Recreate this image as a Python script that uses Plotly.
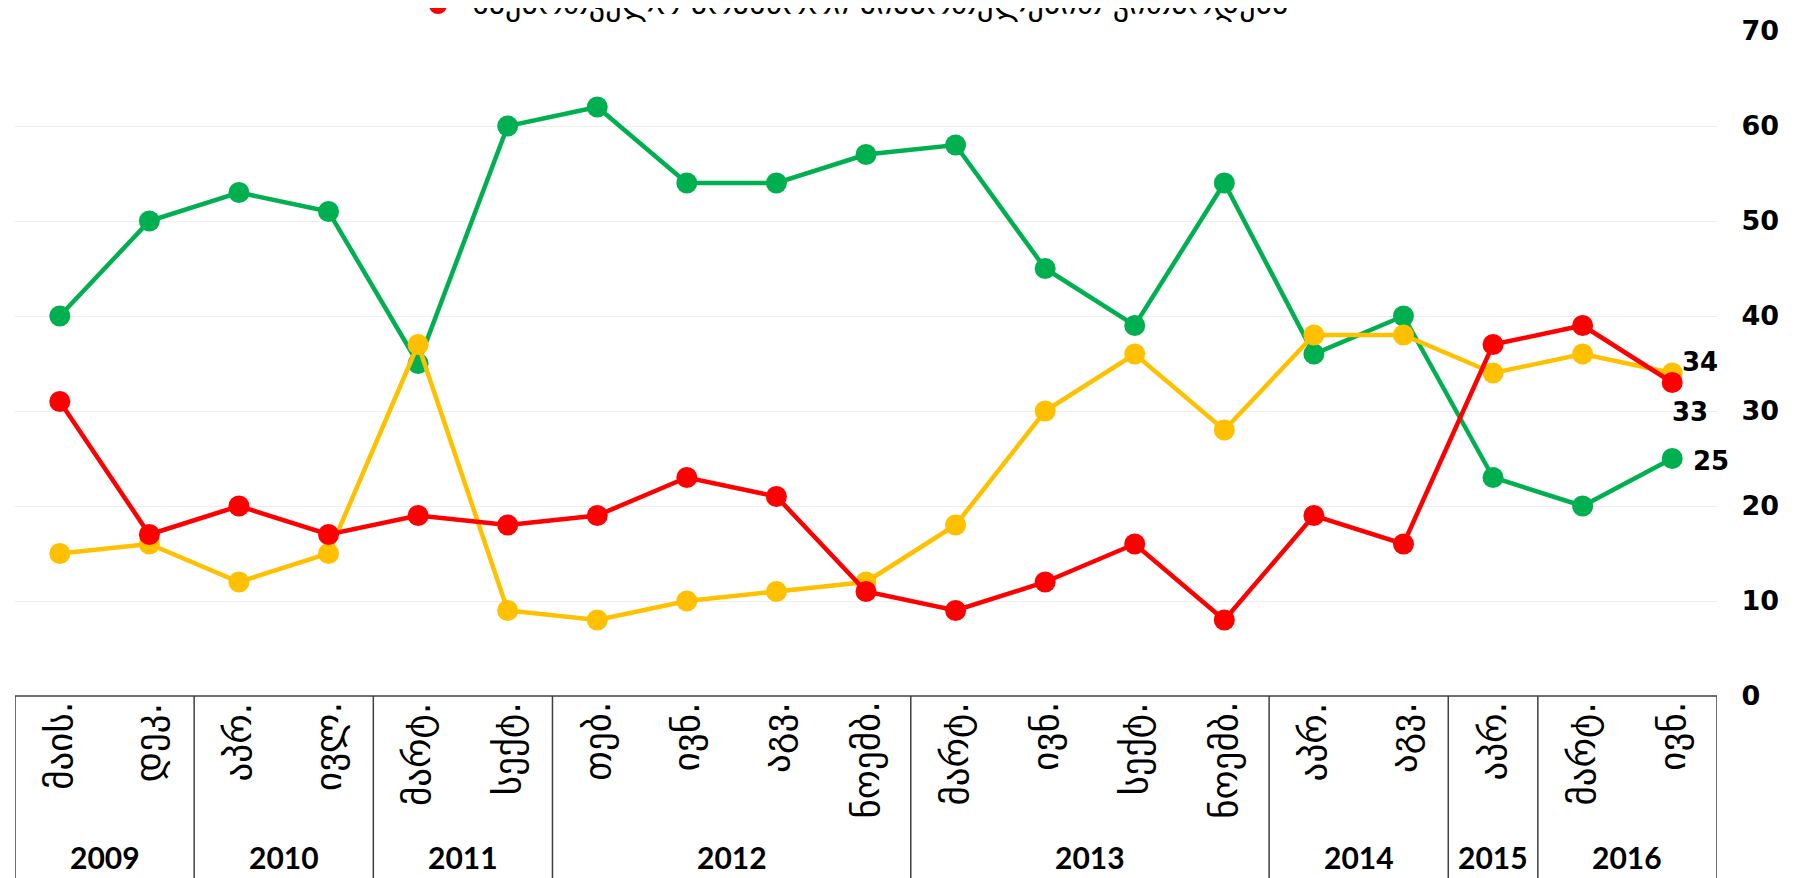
import plotly.graph_objects as go

months = ["მაის.", "დეკ.", "აპრ.", "ივლ.", "მარტ.", "სექტ.", "თებ.", "ივნ.", "აგვ.", "ნოემბ.",
          "მარტ.", "ივნ.", "სექტ.", "ნოემბ.", "აპრ.", "აგვ.", "აპრ.", "მარტ.", "ივნ."]
years = ["2009", "2010", "2011", "2012", "2013", "2014", "2015", "2016"]
year_counts = [2, 2, 2, 4, 4, 2, 1, 2]

green = [40, 50, 53, 51, 35, 60, 62, 54, 54, 57, 58, 45, 39, 54, 36, 40, 23, 20, 25]
yellow = [15, 16, 12, 15, 37, 9, 8, 10, 11, 12, 18, 30, 36, 28, 38, 38, 34, 36, 34]
red = [31, 17, 20, 17, 19, 18, 19, 23, 21, 11, 9, 12, 16, 8, 19, 16, 37, 39, 33]

legend_red = "საქართველო არასწორი მიმართულებით ვითარდება"

GREEN = "#00B050"
YELLOW = "#FFC000"
RED = "#FF0000"

W, H = 1796, 878
ML, MR, MT, MB = 7, 87, 21, 190
PH = H - MT - MB


def py(px):
    """pixel row -> paper y"""
    return (H - MB - px) / PH


x = list(range(len(months)))

fig = go.Figure()
for vals, col in [(green, GREEN), (yellow, YELLOW), (red, RED)]:
    fig.add_trace(go.Scatter(
        x=x, y=vals, mode="lines+markers",
        line=dict(color=col, width=4.5),
        marker=dict(color=col, size=21),
        showlegend=False, hoverinfo="skip",
    ))

annotations = []
shapes = []

# month labels (rotated)
for i, m in enumerate(months):
    annotations.append(dict(
        x=i, xref="x", y=py(692), yref="paper", text=m, showarrow=False,
        textangle=-90, yanchor="top", xanchor="center",
        font=dict(family="DejaVu Sans", size=37, color="#000000"),
    ))

# year labels and separators
line_col = "#3F3F3F"
start = 0
boundaries = [-0.5]
for yr, cnt in zip(years, year_counts):
    center = start + (cnt - 1) / 2
    annotations.append(dict(
        x=center, xref="x", y=py(849), yref="paper", text="<b>%s</b>" % yr,
        showarrow=False, xanchor="center", yanchor="middle",
        font=dict(family="Lato", size=30, color="#000000"),
    ))
    start += cnt
    boundaries.append(start - 0.5)

for b in boundaries:
    shapes.append(dict(type="line", xref="x", yref="paper", x0=b, x1=b,
                       y0=py(688), y1=py(890), line=dict(color=line_col, width=1.5)))
shapes.append(dict(type="line", xref="x", yref="paper", x0=-0.5, x1=len(months) - 0.5,
                   y0=py(688), y1=py(688), line=dict(color=line_col, width=1.5)))

# end-point data labels
lab_font = dict(family="DejaVu Sans", size=26, color="#000000")
last = len(months) - 1
for vals, xs, ys in [(yellow, 8, 11), (red, -2, -29), (green, 19, -2)]:
    annotations.append(dict(
        x=last, xref="x", y=vals[-1], yref="y", text="<b>%d</b>" % vals[-1],
        showarrow=False, xanchor="left", yanchor="middle", xshift=xs, yshift=ys,
        font=lab_font,
    ))

# partially visible legend entry at top (cut off by the page edge, as in the source)
shapes.append(dict(type="circle", xref="paper", yref="paper",
                   x0=(430 - 9 - ML) / (W - ML - MR), x1=(430 + 9 - ML) / (W - ML - MR),
                   y0=py(4), y1=py(-14), fillcolor=RED, line=dict(width=0)))
annotations.append(dict(
    x=(462 - ML) / (W - ML - MR), xref="paper", y=py(-7), yref="paper",
    text=legend_red, showarrow=False, xanchor="left", yanchor="middle",
    font=dict(family="DejaVu Sans", size=32, color="#000000"),
))

fig.update_layout(
    width=W, height=H,
    margin=dict(l=ML, r=MR, t=MT, b=MB, pad=0),
    paper_bgcolor="white", plot_bgcolor="white",
    xaxis=dict(range=[-0.5, len(months) - 0.5], showgrid=False, zeroline=False,
               showticklabels=False, showline=False, ticks="", fixedrange=True),
    yaxis=dict(range=[0, 70], side="right", dtick=10, tick0=0,
               showgrid=True, gridcolor="#EDEDED", gridwidth=1.2, zeroline=False,
               showline=False, ticks="outside", ticklen=18, tickcolor="rgba(0,0,0,0)",
               tickfont=dict(family="DejaVu Sans", size=27, color="#000000"),
               tickprefix="<b>", ticksuffix="</b>"),
    shapes=shapes, annotations=annotations,
    showlegend=False,
)

fig.write_html("out.html")
